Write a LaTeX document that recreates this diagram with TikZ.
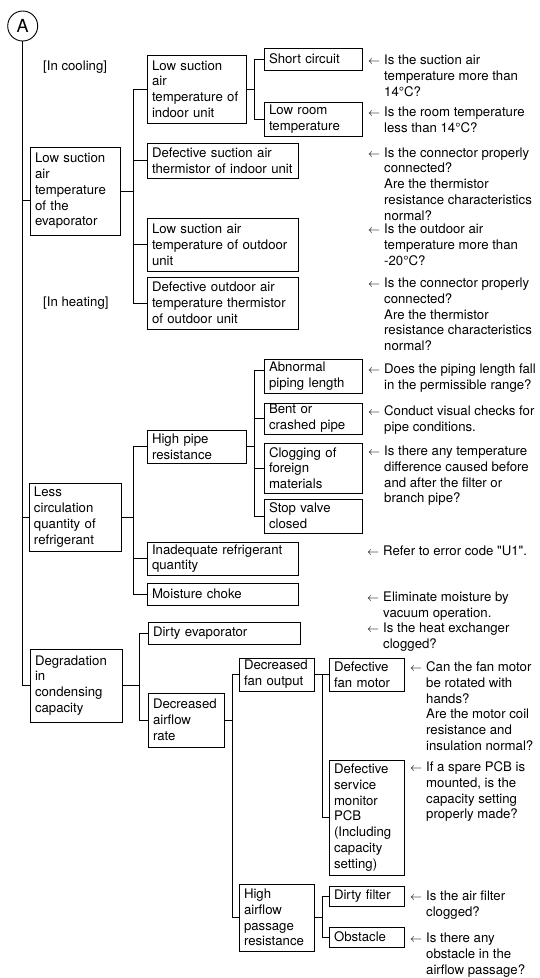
\documentclass[tikz,border=0pt]{standalone}
\usepackage{fontspec}
\setmainfont{TeX Gyre Heros}
\newcommand\myfs{\fontsize{13.2}{15.8}\selectfont}
\newcommand\qq[1]{\begin{tabular}[t]{@{}l@{}}\llap{$\leftarrow$\hspace{4pt}}#1\end{tabular}}
\tikzset{
  box/.style={draw, line width=0.9pt, anchor=north west, align=left, inner xsep=5pt, inner ysep=0pt, outer sep=0pt, font=\myfs},
  qtext/.style={anchor=base west, inner sep=0pt, font=\myfs},
  lbl/.style={anchor=base west, inner sep=0pt, font=\myfs},
  conn/.style={line width=0.9pt, line cap=rect},
}
\begin{document}
\begin{tikzpicture}[x=1pt,y=-1pt]
\useasboundingbox (0,0) rectangle (540,978);

% start circle
\node[draw, circle, line width=0.9pt, minimum size=30pt, inner sep=0pt, font=\fontsize{18}{20}\selectfont] (A) at (22.7,26) {A};

\node[lbl] (cool) at (43,70.5) {[In cooling]};
\node[lbl] (heat) at (43,306.5) {[In heating]};

% level 1
\node[box, text width=80pt, minimum height=88pt] (ev) at (30,147) {Low suction\\air\\temperature\\of the\\evaporator};
\node[box, text width=82pt, minimum height=68pt] (lc) at (29,483) {Less\\circulation\\quantity of\\refrigerant};
\node[box, text width=82pt, minimum height=73pt] (dcc) at (30,649) {Degradation\\in\\condensing\\capacity};

% evaporator branch
\node[box, text width=89pt, minimum height=68pt] (indoor) at (147,55) {Low suction\\air\\temperature of\\indoor unit};
\node[box, text width=141pt, minimum height=35pt] (dsa) at (147,143) {Defective suction air\\thermistor of indoor unit};
\node[box, text width=141pt, minimum height=53pt] (lso) at (147,218) {Low suction air\\temperature of outdoor\\unit};
\node[box, text width=141pt, minimum height=52pt] (dot) at (147,277) {Defective outdoor air\\temperature thermistor\\of outdoor unit};
\node[box, text width=88pt, minimum height=22pt] (sc) at (264,48) {Short circuit};
\node[box, text width=88pt, minimum height=34pt] (lrt) at (264,102) {Low room\\temperature};

% circulation branch
\node[box, text width=89pt, minimum height=33pt] (hpr) at (147,430) {High pipe\\resistance};
\node[box, text width=88pt, minimum height=34pt] (apl) at (264,359) {Abnormal\\piping length};
\node[box, text width=88pt, minimum height=31pt] (bcp) at (264,403) {Bent or\\crashed pipe};
\node[box, text width=88pt, minimum height=50pt] (cfm) at (264,443) {Clogging of\\foreign\\materials};
\node[box, text width=88pt, minimum height=34pt] (svc) at (264,499) {Stop valve\\closed};
\node[box, text width=141pt, minimum height=33pt] (irq) at (147,542) {Inadequate refrigerant\\quantity};
\node[box, text width=141pt, minimum height=22pt] (mch) at (147,583) {Moisture choke};

% condensing branch
\node[box, text width=142pt, minimum height=22pt] (dev) at (148,622) {Dirty evaporator};
\node[box, text width=66pt, minimum height=54pt] (dar) at (148,693) {Decreased\\airflow\\rate};
\node[box, text width=65pt, minimum height=33pt] (dfo) at (239,658) {Decreased\\fan output};
\node[box, text width=65pt, minimum height=33pt] (dfm) at (329,658) {Defective\\fan motor};
\node[box, text width=65pt, minimum height=115pt] (pcb) at (329,760) {Defective\\service\\monitor\\PCB\\(Including\\capacity\\setting)};
\node[box, text width=65pt, minimum height=67pt] (hap) at (239,884) {High\\airflow\\passage\\resistance};
\node[box, text width=65pt, minimum height=20pt] (dfi) at (329,886) {Dirty filter};
\node[box, text width=65pt, minimum height=20pt] (obs) at (329,927) {Obstacle};

% questions
\node[qtext] (qsc) at (384,64.5) {\qq{Is the suction air\\temperature more than\\14°C?}};
\node[qtext] (qlrt) at (384,116.5) {\qq{Is the room temperature\\less than 14°C?}};
\node[qtext] (qdsa) at (384,157) {\qq{Is the connector properly\\connected?\\Are the thermistor\\resistance characteristics\\normal?}};
\node[qtext] (qlso) at (384,233.5) {\qq{Is the outdoor air\\temperature more than\\-20°C?}};
\node[qtext] (qdot) at (384,287.5) {\qq{Is the connector properly\\connected?\\Are the thermistor\\resistance characteristics\\normal?}};
\node[qtext] (qapl) at (384,373.5) {\qq{Does the piping length fall\\in the permissible range?}};
\node[qtext] (qbcp) at (384,415.5) {\qq{Conduct visual checks for\\pipe conditions.}};
\node[qtext] (qcfm) at (384,455.5) {\qq{Is there any temperature\\difference caused before\\and after the filter or\\branch pipe?}};
\node[qtext] (qirq) at (383,555.5) {\qq{Refer to error code \textquotedbl U1\textquotedbl.}};
\node[qtext] (qmch) at (383,601.5) {\qq{Eliminate moisture by\\vacuum operation.}};
\node[qtext] (qdev) at (383,632.5) {\qq{Is the heat exchanger\\clogged?}};
\node[qtext] (qdfm) at (426,671.5) {\qq{Can the fan motor\\be rotated with\\hands?\\Are the motor coil\\resistance and\\insulation normal?}};
\node[qtext] (qpcb) at (426,771.5) {\qq{If a spare PCB is\\mounted, is the\\capacity setting\\properly made?}};
\node[qtext] (qdfi) at (426,900.5) {\qq{Is the air filter\\clogged?}};
\node[qtext] (qobs) at (426,942.5) {\qq{Is there any\\obstacle in the\\airflow passage?}};

% bus coordinates
\coordinate (b1) at (133,0);
\coordinate (b2) at (254,0);
\coordinate (b3) at (139,0);
\coordinate (b4) at (232,0);
\coordinate (b5) at (322.5,0);
\coordinate (evin) at ([yshift=-9pt]ev.west);
\coordinate (aplin) at ([yshift=6pt]apl.west);

% trunk
\draw[conn] (A.south) -- (A.south |- dcc.west);
\draw[conn] (A.south |- evin) -- (evin);
\draw[conn] (A.south |- lc.west) -- (lc.west);
\draw[conn] (A.south |- dcc.west) -- (dcc.west);

% evaporator group
\draw[conn] (ev.east) -- (ev.east -| b1);
\draw[conn] (b1 |- indoor.west) -- (b1 |- dot.west);
\foreach \n in {indoor,dsa,lso,dot} \draw[conn] (b1 |- \n.west) -- (\n.west);
\draw[conn] (indoor.east) -- (indoor.east -| b2);
\draw[conn] (b2 |- sc.west) -- (b2 |- lrt.west);
\foreach \n in {sc,lrt} \draw[conn] (b2 |- \n.west) -- (\n.west);

% circulation group
\draw[conn] (lc.east) -- (lc.east -| b1);
\draw[conn] (b1 |- hpr.west) -- (b1 |- mch.west);
\foreach \n in {hpr,irq,mch} \draw[conn] (b1 |- \n.west) -- (\n.west);
\draw[conn] (hpr.east) -- (hpr.east -| b2);
\draw[conn] (b2 |- aplin) -- (b2 |- svc.west);
\draw[conn] (b2 |- aplin) -- (aplin);
\foreach \n in {bcp,cfm,svc} \draw[conn] (b2 |- \n.west) -- (\n.west);

% condensing group
\draw[conn] (dcc.east) -- (dcc.east -| b3);
\draw[conn] (b3 |- dev.west) -- (b3 |- dar.west);
\foreach \n in {dev,dar} \draw[conn] (b3 |- \n.west) -- (\n.west);
\draw[conn] (dar.east) -- (dar.east -| b4);
\draw[conn] (b4 |- dfo.west) -- (b4 |- hap.west);
\foreach \n in {dfo,hap} \draw[conn] (b4 |- \n.west) -- (\n.west);
\draw[conn] (dfo.east) -- (dfm.west);
\draw[conn] (b5 |- dfo.east) -- (b5 |- pcb.west) -- (pcb.west);
\draw[conn] (hap.east) -- (hap.east -| b5);
\draw[conn] (b5 |- dfi.west) -- (b5 |- obs.west);
\foreach \n in {dfi,obs} \draw[conn] (b5 |- \n.west) -- (\n.west);
\end{tikzpicture}
\end{document}
